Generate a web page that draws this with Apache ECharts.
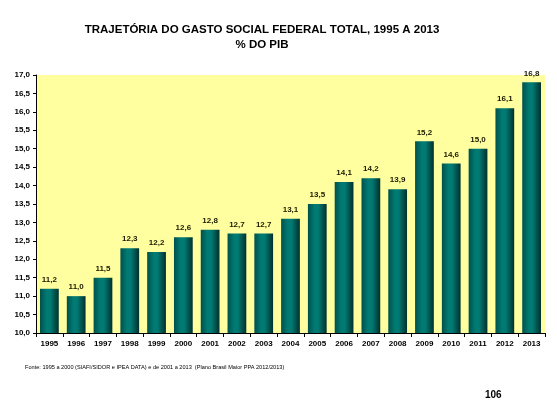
<!DOCTYPE html>
<html>
<head>
<meta charset="utf-8">
<script src="https://cdn.jsdelivr.net/npm/echarts@6/dist/echarts.min.js"></script>
<style>
  html, body { margin: 0; padding: 0; background: #fff; }
  #chart { width: 557px; height: 419px; }
</style>
</head>
<body>
<div id="chart"></div>
<script>
// anos e gasto social federal (% do PIB)
const anos = ["1995", "1996", "1997", "1998", "1999", "2000", "2001", "2002", "2003", "2004",
  "2005", "2006", "2007", "2008", "2009", "2010", "2011", "2012", "2013"];
const gasto = [11.2, 11.0, 11.5, 12.3, 12.2, 12.6, 12.8, 12.7, 12.7, 13.1,
  13.5, 14.1, 14.2, 13.9, 15.2, 14.6, 15.0, 16.1, 16.8];

const titulo = "TRAJETÓRIA DO GASTO SOCIAL FEDERAL TOTAL, 1995 A 2013";
const subtitulo = "% DO PIB";
const fonte = "Fonte: 1995 a 2000 (SIAFI/SIDOR e IPEA DATA) e de 2001 a 2013  (Plano Brasil Maior PPA 2012/2013)";
const pagina = "106";

const fmt = (v) => v.toFixed(1).replace(".", ",");

const chart = echarts.init(document.getElementById("chart"), null, { renderer: "canvas" });

chart.setOption({
  animation: false,
  backgroundColor: "#ffffff",
  graphic: [
    {
      type: "text",
      x: 262,
      y: 37,
      style: {
        text: titulo + "\n" + subtitulo,
        align: "center",
        verticalAlign: "middle",
        lineHeight: 15,
        font: "bold 11.5px Liberation Sans, Arial, sans-serif",
        fill: "#000"
      }
    },
    {
      type: "text",
      left: 25,
      top: 364,
      style: {
        text: fonte,
        font: "5.6px Liberation Sans, Arial, sans-serif",
        fill: "#000"
      }
    },
    {
      type: "text",
      left: 485,
      top: 390,
      style: {
        text: pagina,
        font: "bold 10px Liberation Sans, Arial, sans-serif",
        fill: "#000"
      }
    }
  ],
  grid: {
    left: 36,
    right: 12,
    top: 75,
    bottom: 86,
    show: true,
    backgroundColor: "#ffffa0",
    borderWidth: 0
  },
  xAxis: {
    type: "category",
    data: anos,
    axisLine: { lineStyle: { color: "#000", width: 1 } },
    axisTick: { show: true, length: 4, alignWithLabel: false, lineStyle: { color: "#000" } },
    axisLabel: {
      interval: 0,
      margin: 7,
      fontFamily: "Liberation Sans, Arial, sans-serif",
      fontSize: 8,
      fontWeight: "bold",
      color: "#000"
    }
  },
  yAxis: {
    type: "value",
    min: 10,
    max: 17,
    interval: 0.5,
    axisLine: { show: true, lineStyle: { color: "#000", width: 1 } },
    axisTick: { show: true, length: 3, lineStyle: { color: "#000" } },
    splitLine: { show: false },
    axisLabel: {
      margin: 6,
      fontFamily: "Liberation Sans, Arial, sans-serif",
      fontSize: 8,
      fontWeight: "bold",
      color: "#000",
      formatter: (v) => fmt(v)
    }
  },
  series: [
    {
      type: "bar",
      data: gasto,
      barCategoryGap: "30%",
      itemStyle: {
        color: new echarts.graphic.LinearGradient(0, 0, 1, 0, [
          { offset: 0, color: "#00504c" },
          { offset: 0.35, color: "#007a72" },
          { offset: 0.55, color: "#007a72" },
          { offset: 1, color: "#00302e" }
        ])
      },
      label: {
        show: true,
        position: "top",
        distance: 5,
        fontFamily: "Liberation Sans, Arial, sans-serif",
        fontSize: 8,
        fontWeight: "bold",
        color: "#1a1a00",
        formatter: (p) => fmt(p.value)
      }
    }
  ]
});
</script>
</body>
</html>
